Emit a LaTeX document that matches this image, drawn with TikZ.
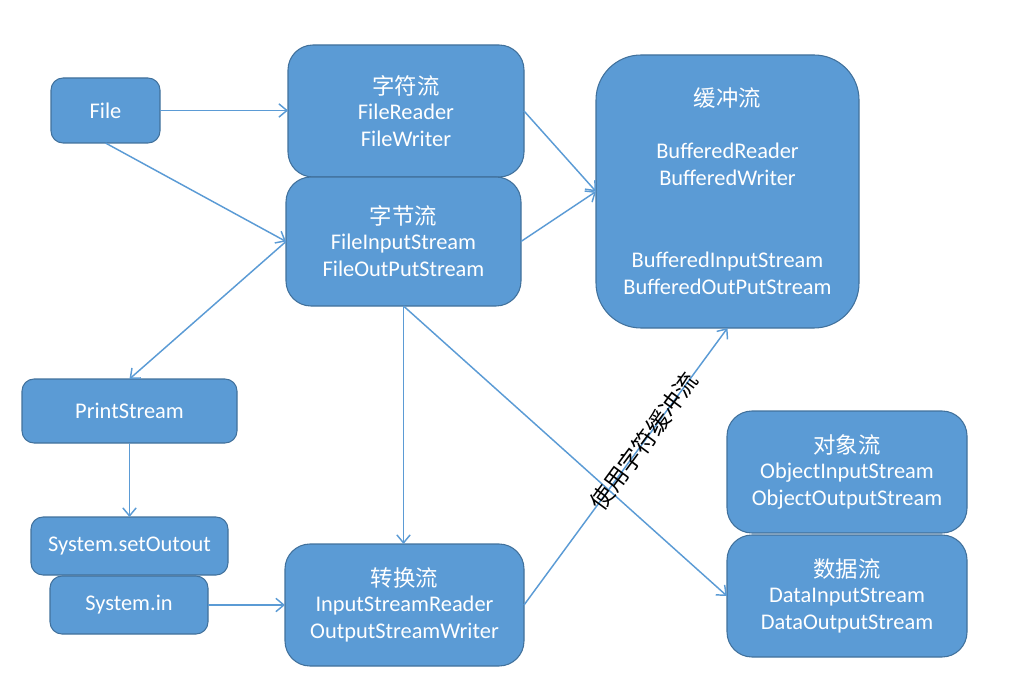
\documentclass[tikz,border=0pt]{standalone}
\usepackage{fontspec}
\setmainfont{Carlito}
\newfontfamily\cjk{Noto Sans CJK SC}
\usetikzlibrary{arrows.meta}
\definecolor{boxfill}{HTML}{5B9BD5}
\definecolor{boxedge}{HTML}{41719C}
\definecolor{linec}{HTML}{5B9BD5}
\begin{document}
\begin{tikzpicture}[x=0.75pt,y=-0.75pt,
  box/.style={draw=boxedge, line width=0.8pt, fill=boxfill, text=white, align=center,
    inner sep=0pt, outer sep=0pt, font=\fontsize{16.8}{20.25}\selectfont},
  sz/.style 2 args={minimum width=#1*0.75pt, minimum height=#2*0.75pt},
  rc/.style={rounded corners=#1*0.75pt},
  conn/.style={draw=linec, line width=1.1pt, -{Straight Barb[length=6pt,width=10pt,line width=1.1pt]}},
  lab/.style={text=black, font=\cjk\fontsize{17.5}{20}\selectfont, inner sep=0pt}]
\useasboundingbox (0,0) rectangle (1019,673);

\node[box, sz={109}{65}, rc=12] (file) at (105.5,110.5) {File};
\node[box, sz={236}{132}, rc=25] (zifu) at (406,111) {{\cjk 字符流}\\[-1.5pt]FileReader\\FileWriter};
\node[box, sz={235}{129}, rc=25] (zijie) at (403.5,241.5) {{\cjk 字节流}\\[-1.5pt]FileInputStream\\FileOutPutStream};
\node[box, sz={263}{273}, rc=45] (huanchong) at (727.5,191.5) {{\cjk 缓冲流}\\[19pt]BufferedReader\\BufferedWriter\\[41.25pt]BufferedInputStream\\BufferedOutPutStream};
\node[box, sz={215}{64}, rc=12] (print) at (129.5,411) {PrintStream};
\node[box, sz={197}{58}, rc=12] (setout) at (129.5,546) {System.setOutout};
\node[box, sz={158}{58}, rc=12] (sysin) at (129,605) {System.in};
\node[box, sz={239}{122}, rc=25] (zhuanhuan) at (404.5,605) {{\cjk 转换流}\\[-1.5pt]InputStreamReader\\OutputStreamWriter};
\node[box, sz={240}{122}, rc=25] (duixiang) at (847,472) {{\cjk 对象流}\\[-1.5pt]ObjectInputStream\\ObjectOutputStream};
\node[box, sz={240}{122}, rc=25] (shuju) at (847,596) {{\cjk 数据流}\\[-1.5pt]DataInputStream\\DataOutputStream};

\draw[conn] (file.east) -- (zifu.west |- file.east);
\draw[conn] (file.south) -- (zijie.west);
\draw[conn] (zifu.east) -- (huanchong.west);
\draw[conn] (zijie.east) -- (huanchong.west);
\draw[conn] (zijie.west) -- (print.north);
\draw[conn] (print.south) -- (setout.north);
\draw[conn] (zijie.south) -- (zijie.south |- zhuanhuan.north);
\draw[conn] (zijie.south) -- (shuju.west);
\draw[conn] (zhuanhuan.east) -- (huanchong.south)
  node[lab, sloped, pos=0.59] (uselab) {使用字符缓冲流};
\draw[conn] (sysin.east) -- (zhuanhuan.west |- sysin.east);
\end{tikzpicture}
\end{document}
